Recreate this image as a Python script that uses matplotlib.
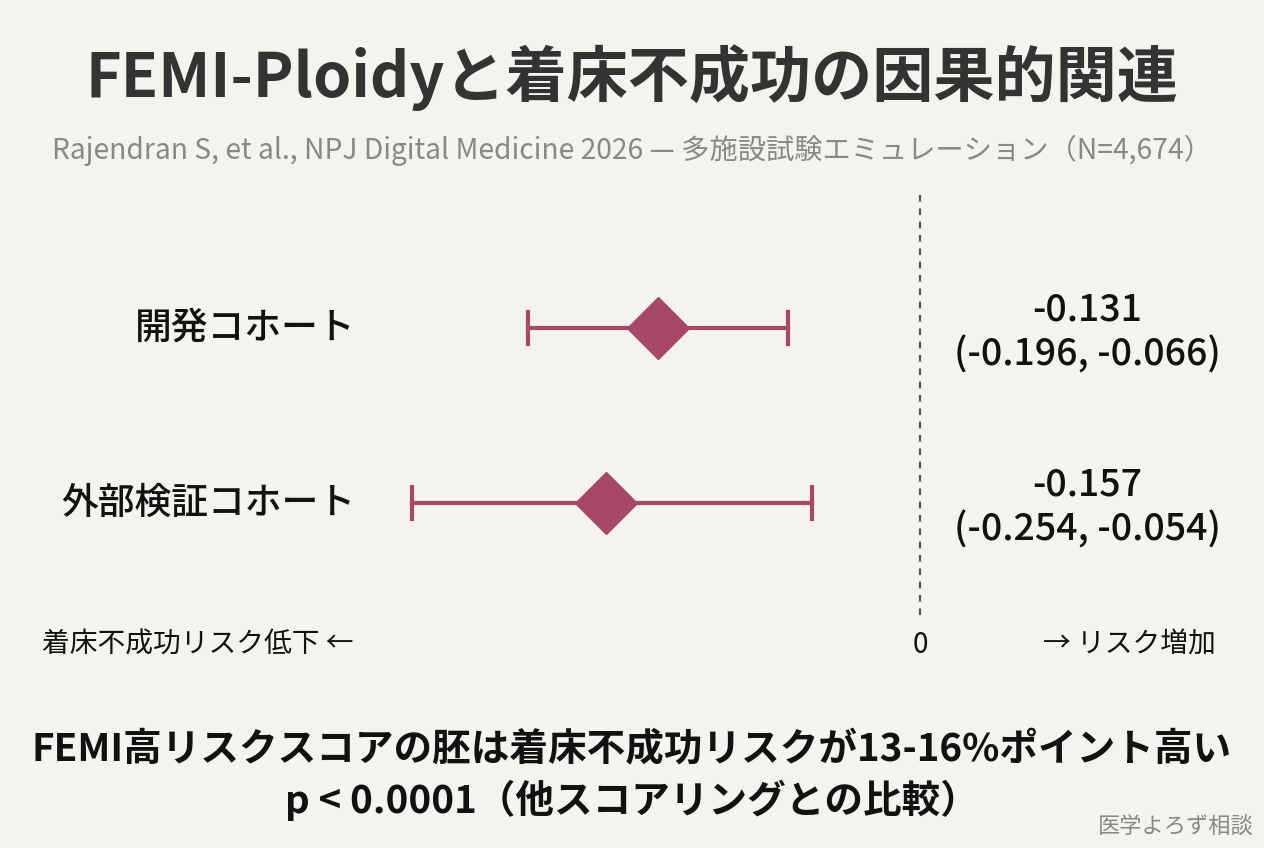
import matplotlib.pyplot as plt

plt.rcParams['font.family'] = ['Noto Sans CJK JP', 'DejaVu Sans']

# data
cohorts = ['開発コホート', '外部検証コホート']
estimates = [-0.131, -0.157]
ci_low = [-0.196, -0.254]
ci_high = [-0.066, -0.054]

bg = '#f4f3ee'
col = '#a84868'

fig = plt.figure(figsize=(12.64, 8.48), dpi=100, facecolor=bg)
ax = fig.add_axes([0, 0, 1, 1], facecolor=bg)
ax.set_xlim(-0.46, 0.172)
ax.set_ylim(2.971, -1.874)
ax.axis('off')

rows = list(range(len(cohorts)))
ax.plot([0, 0], [-0.76, 1.64], ls=(0, (3, 3)), color='#555555', lw=1.6)
for i in rows:
    ax.plot([ci_low[i], ci_high[i]], [i, i], color=col, lw=3)
    ax.plot([ci_low[i], ci_low[i]], [i - 0.09, i + 0.09], color=col, lw=3)
    ax.plot([ci_high[i], ci_high[i]], [i - 0.09, i + 0.09], color=col, lw=3)
    ax.plot(estimates[i], i, marker='D', ms=32, color=col, mec=col)
    fig.text(355 / 1264, 1 - (328 + 175 * i) / 848, cohorts[i], ha='right', va='center',
             fontsize=26.5, fontweight='medium', color='#111111')
    fig.text(1087 / 1264, 1 - (332 + 175 * i) / 848,
             f'{estimates[i]:.3f}\n({ci_low[i]:.3f}, {ci_high[i]:.3f})',
             ha='center', va='center', fontsize=27, linespacing=1.2,
             fontweight='medium', color='#111111')

fig.text(0.5, 1 - 78 / 848, 'FEMI-Ploidyと着床不成功の因果的関連', ha='center', va='center',
         fontsize=44, fontweight='bold', color='#333333')
fig.text(0.5, 1 - 150 / 848,
         'Rajendran S, et al., NPJ Digital Medicine 2026 — 多施設試験エミュレーション（N=4,674）',
         ha='center', va='center', fontsize=20.3, color='#888888')
fig.text(42 / 1264, 1 - 645 / 848, '着床不成功リスク低下 ←', ha='left', va='center', fontsize=20, color='#111111')
fig.text(920 / 1264, 1 - 645 / 848, '0', ha='center', va='center', fontsize=20, color='#111111')
fig.text(1216 / 1264, 1 - 645 / 848, '→ リスク増加', ha='right', va='center', fontsize=20, color='#111111')
fig.text(0.5, 1 - 750 / 848, 'FEMI高リスクスコアの胚は着床不成功リスクが13-16%ポイント高い',
         ha='center', va='center', fontsize=27.8, fontweight='bold', color='#111111')
fig.text(0.5, 1 - 800 / 848, 'p < 0.0001（他スコアリングとの比較）',
         ha='center', va='center', fontsize=27.8, fontweight='bold', color='#111111')
fig.text(1254 / 1264, 1 - 827 / 848, '医学よろず相談', ha='right', va='center', fontsize=16, color='#888888')

fig.savefig('out.png', dpi=100, facecolor=bg)
